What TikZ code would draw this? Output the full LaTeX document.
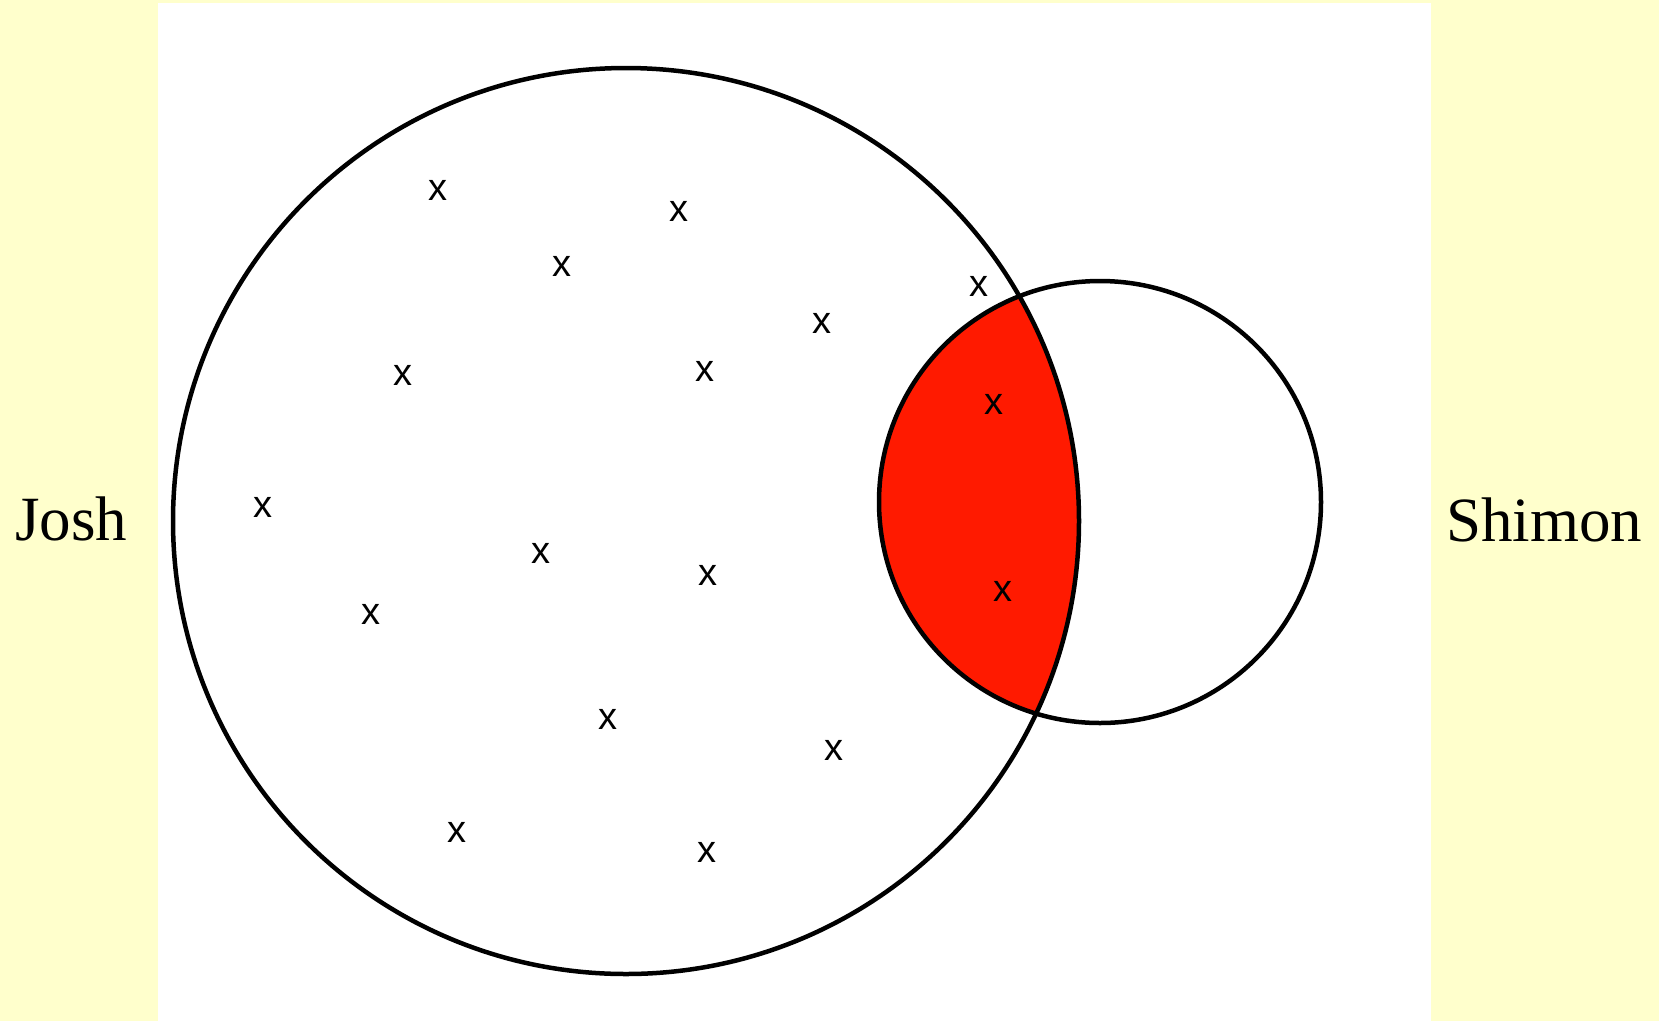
\documentclass[tikz,border=0pt]{standalone}
\usepackage{fontspec}
\setmainfont{Liberation Serif}
\newfontfamily\markfont{Liberation Sans}
\definecolor{bgyellow}{RGB}{255,255,204}
\definecolor{vennred}{RGB}{255,26,0}
\begin{document}
\begin{tikzpicture}[x=1pt,y=-1pt,
  ring/.style={draw=black,line width=4.5pt},
  xmark/.style={inner sep=0pt,font=\markfont\fontsize{38}{38}\selectfont},
  namelabel/.style={inner sep=0pt,anchor=base west,font=\fontsize{63}{63}\selectfont}]
\useasboundingbox (0,0) rectangle (1659,1021);
\fill[bgyellow] (0,0) rectangle (1659,1021);
\fill[white] (158,3) rectangle (1431,1021);
\coordinate (bigc) at (626,521);
\coordinate (smallc) at (1100,502);
\begin{scope}
  \clip (bigc) circle[radius=453];
  \fill[vennred] (smallc) circle[radius=221];
\end{scope}
\draw[ring] (bigc) circle[radius=453];
\draw[ring] (smallc) circle[radius=221];
\node[xmark] (x1) at (438,190) {x};
\node[xmark] (x2) at (679,211) {x};
\node[xmark] (x3) at (562,266) {x};
\node[xmark] (x4) at (979,286) {x};
\node[xmark] (x5) at (822,323) {x};
\node[xmark] (x6) at (403,375) {x};
\node[xmark] (x7) at (705,371) {x};
\node[xmark] (x8) at (994,404) {x};
\node[xmark] (x9) at (263,507) {x};
\node[xmark] (x10) at (541,553) {x};
\node[xmark] (x11) at (708,575) {x};
\node[xmark] (x12) at (1003,591) {x};
\node[xmark] (x13) at (371,614) {x};
\node[xmark] (x14) at (608,719) {x};
\node[xmark] (x15) at (834,750) {x};
\node[xmark] (x16) at (457,832) {x};
\node[xmark] (x17) at (707,852) {x};
\node[namelabel] (josh) at (15,540) {Josh};
\node[namelabel] (shimon) at (1446,541) {Shimon};
\end{tikzpicture}
\end{document}
